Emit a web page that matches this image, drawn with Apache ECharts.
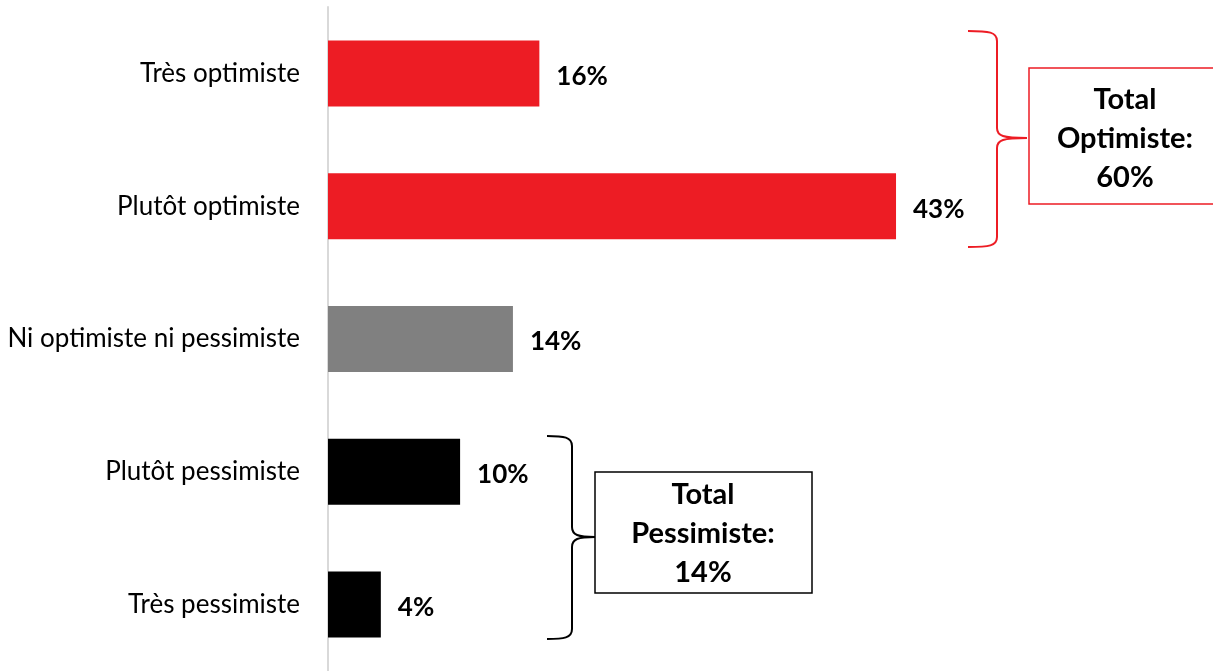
<!DOCTYPE html>
<html>
<head>
<meta charset="utf-8">
<script src="https://cdn.jsdelivr.net/npm/echarts@6/dist/echarts.min.js"></script>
<style>
  html, body { margin: 0; padding: 0; background: #fff; }
  #chart { width: 1213px; height: 671px; }
</style>
</head>
<body>
<div id="chart"></div>
<script>
  // données du graphique
  var categories = ['Très optimiste', 'Plutôt optimiste', 'Ni optimiste ni pessimiste', 'Plutôt pessimiste', 'Très pessimiste'];
  var values = [16, 43, 14, 10, 4];
  var barColors = ['#ED1C24', '#ED1C24', '#808080', '#000000', '#000000'];
  var totalOptimiste = ['Total', 'Optimiste:', '60%'];
  var totalPessimiste = ['Total', 'Pessimiste:', '14%'];

  var font = 'Lato, "Open Sans", sans-serif';
  var chart = echarts.init(document.getElementById('chart'));

  var seriesData = [];
  for (var i = 0; i < values.length; i++) {
    seriesData.push({ value: values[i], itemStyle: { color: barColors[i] } });
  }

  // accolade : ouverture à gauche (x0), dos (x1), pointe (x2)
  function brace(x0, x1, x2, yTop, yMid, yBot, color) {
    var st = { fill: null, stroke: color, lineWidth: 2 };
    var r = 10;
    return [
      { type: 'bezierCurve', shape: { x1: x0, y1: yTop, cpx1: x1 - 8, cpy1: yTop, cpx2: x1, cpy2: yTop + 1, x2: x1, y2: yTop + r }, style: st },
      { type: 'line', shape: { x1: x1, y1: yTop + r, x2: x1, y2: yMid - r }, style: st },
      { type: 'bezierCurve', shape: { x1: x1, y1: yMid - r, cpx1: x1, cpy1: yMid - 2, cpx2: x1 + 6, cpy2: yMid, x2: x2, y2: yMid }, style: st },
      { type: 'bezierCurve', shape: { x1: x2, y1: yMid, cpx1: x1 + 6, cpy1: yMid, cpx2: x1, cpy2: yMid + 2, x2: x1, y2: yMid + r }, style: st },
      { type: 'line', shape: { x1: x1, y1: yMid + r, x2: x1, y2: yBot - r }, style: st },
      { type: 'bezierCurve', shape: { x1: x1, y1: yBot - r, cpx1: x1, cpy1: yBot - 1, cpx2: x1 - 8, cpy2: yBot, x2: x0, y2: yBot }, style: st }
    ];
  }

  var graphics = []
    .concat(brace(968, 997, 1027, 31, 138, 247, '#ED1C24'))
    .concat(brace(547, 572, 595, 436, 537, 639, '#000'))
    .concat([
      {
        type: 'rect',
        shape: { x: 1029, y: 68, width: 200, height: 136 },
        style: { fill: '#fff', stroke: '#ED1C24', lineWidth: 1.5 }
      },
      {
        type: 'text',
        x: 1125, y: 139,
        style: {
          text: totalOptimiste.join('\n'),
          fill: '#000', font: 'bold 29px ' + font,
          align: 'center', verticalAlign: 'middle', lineHeight: 39
        }
      },
      {
        type: 'rect',
        shape: { x: 595, y: 472, width: 217, height: 121 },
        style: { fill: '#fff', stroke: '#000', lineWidth: 1.5 }
      },
      {
        type: 'text',
        x: 703, y: 534,
        style: {
          text: totalPessimiste.join('\n'),
          fill: '#000', font: 'bold 29px ' + font,
          align: 'center', verticalAlign: 'middle', lineHeight: 39
        }
      }
    ]);

  var option = {
    animation: false,
    grid: { left: 328, right: 224.5, top: 7, bottom: -4, containLabel: false },
    xAxis: {
      type: 'value', min: 0, max: 50,
      show: false
    },
    yAxis: {
      type: 'category',
      inverse: true,
      data: categories,
      axisLine: { show: true, lineStyle: { color: '#D9D9D9', width: 2 } },
      axisTick: { show: false },
      axisLabel: { color: '#000', fontSize: 26, fontFamily: font, margin: 28 }
    },
    series: [{
      type: 'bar',
      barWidth: 66,
      data: seriesData,
      label: {
        show: true,
        position: 'right',
        distance: 17,
        formatter: '{c}%',
        color: '#000',
        fontSize: 26,
        fontWeight: 'bold',
        fontFamily: font,
        offset: [0, 3]
      }
    }],
    graphic: graphics
  };

  chart.setOption(option);
</script>
</body>
</html>
